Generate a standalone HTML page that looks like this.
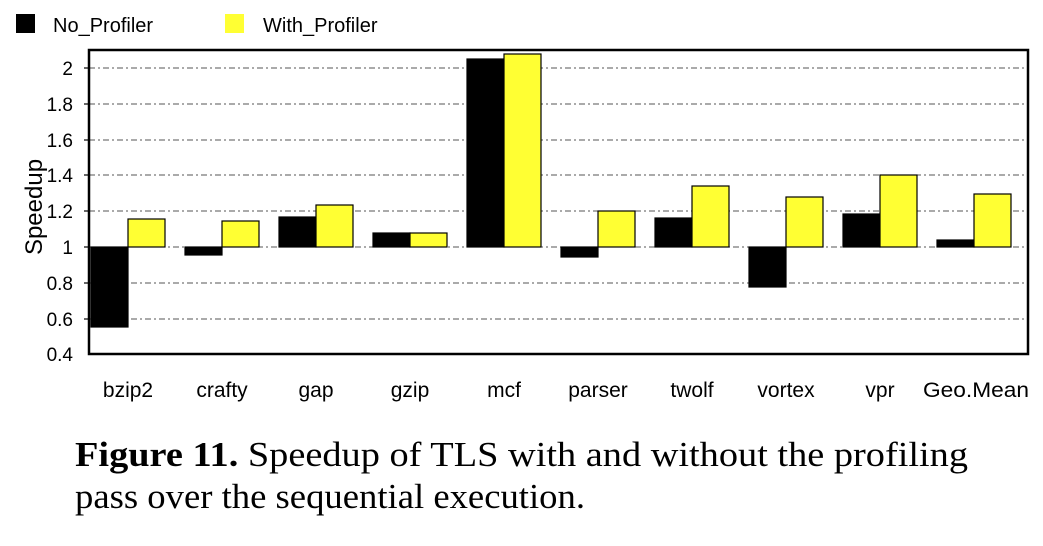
<!DOCTYPE html>
<html><head><style>body{margin:0;background:#fff}</style></head><body>
<svg width="1043" height="541" xmlns="http://www.w3.org/2000/svg" font-family="Liberation Sans, sans-serif">
<rect x="16" y="14" width="19" height="19" fill="#000"/>
<text x="53" y="32" font-size="20">No_Profiler</text>
<rect x="225" y="14" width="19" height="19" fill="#ffff33"/>
<text x="263" y="32" font-size="20">With_Profiler</text>
<g stroke="#555" stroke-width="1" stroke-dasharray="6,3,2,3">
<line x1="89" x2="1028" y1="68" y2="68"/><line x1="89" x2="1028" y1="104" y2="104"/>
<line x1="89" x2="1028" y1="140" y2="140"/><line x1="89" x2="1028" y1="175" y2="175"/>
<line x1="89" x2="1028" y1="211" y2="211"/><line x1="89" x2="1028" y1="247" y2="247"/>
<line x1="89" x2="1028" y1="283" y2="283"/><line x1="89" x2="1028" y1="319" y2="319"/>
</g>
<g stroke="#000" stroke-width="1.2">
<rect x="91" y="247" width="37" height="80" fill="#000"/><rect x="128" y="219" width="37" height="28" fill="#ffff33"/>
<rect x="185" y="247" width="37" height="8" fill="#000"/><rect x="222" y="221" width="37" height="26" fill="#ffff33"/>
<rect x="279" y="217" width="37" height="30" fill="#000"/><rect x="316" y="205" width="37" height="42" fill="#ffff33"/>
<rect x="373" y="233" width="37" height="14" fill="#000"/><rect x="410" y="233" width="37" height="14" fill="#ffff33"/>
<rect x="467" y="59" width="37" height="188" fill="#000"/><rect x="504" y="54" width="37" height="193" fill="#ffff33"/>
<rect x="561" y="247" width="37" height="10" fill="#000"/><rect x="598" y="211" width="37" height="36" fill="#ffff33"/>
<rect x="655" y="218" width="37" height="29" fill="#000"/><rect x="692" y="186" width="37" height="61" fill="#ffff33"/>
<rect x="749" y="247" width="37" height="40" fill="#000"/><rect x="786" y="197" width="37" height="50" fill="#ffff33"/>
<rect x="843" y="214" width="37" height="33" fill="#000"/><rect x="880" y="175" width="37" height="72" fill="#ffff33"/>
<rect x="937" y="240" width="37" height="7" fill="#000"/><rect x="974" y="194" width="37" height="53" fill="#ffff33"/>
</g>
<rect x="89" y="50" width="939" height="304" fill="none" stroke="#000" stroke-width="2.5"/>
<g stroke="#000" stroke-width="1.2">
<line x1="84" x2="89" y1="68" y2="68"/><line x1="84" x2="89" y1="104" y2="104"/><line x1="84" x2="89" y1="140" y2="140"/>
<line x1="84" x2="89" y1="175" y2="175"/><line x1="84" x2="89" y1="211" y2="211"/><line x1="84" x2="89" y1="247" y2="247"/>
<line x1="84" x2="89" y1="283" y2="283"/><line x1="84" x2="89" y1="319" y2="319"/>
</g>
<g font-size="19" text-anchor="end">
<text x="73" y="75">2</text><text x="73" y="111">1.8</text><text x="73" y="147">1.6</text><text x="73" y="182">1.4</text>
<text x="73" y="218">1.2</text><text x="73" y="254">1</text><text x="73" y="290">0.8</text><text x="73" y="326">0.6</text><text x="73" y="361">0.4</text>
</g>
<text transform="translate(42,207) rotate(-90)" font-size="24" text-anchor="middle">Speedup</text>
<g font-size="21" text-anchor="middle">
<text x="128" y="397">bzip2</text><text x="222" y="397">crafty</text><text x="316" y="397">gap</text><text x="410" y="397">gzip</text>
<text x="504" y="397">mcf</text><text x="598" y="397">parser</text><text x="692" y="397">twolf</text><text x="786" y="397">vortex</text>
<text x="880" y="397">vpr</text><text x="976" y="397" textLength="106" lengthAdjust="spacingAndGlyphs">Geo.Mean</text>
</g>
<g font-family="Liberation Serif, serif" font-size="35">
<text x="75" y="466" textLength="893" lengthAdjust="spacingAndGlyphs"><tspan font-weight="bold">Figure 11.</tspan> Speedup of TLS with and without the profiling</text>
<text x="75" y="508" textLength="510" lengthAdjust="spacingAndGlyphs">pass over the sequential execution.</text>
</g>
</svg>
</body></html>
